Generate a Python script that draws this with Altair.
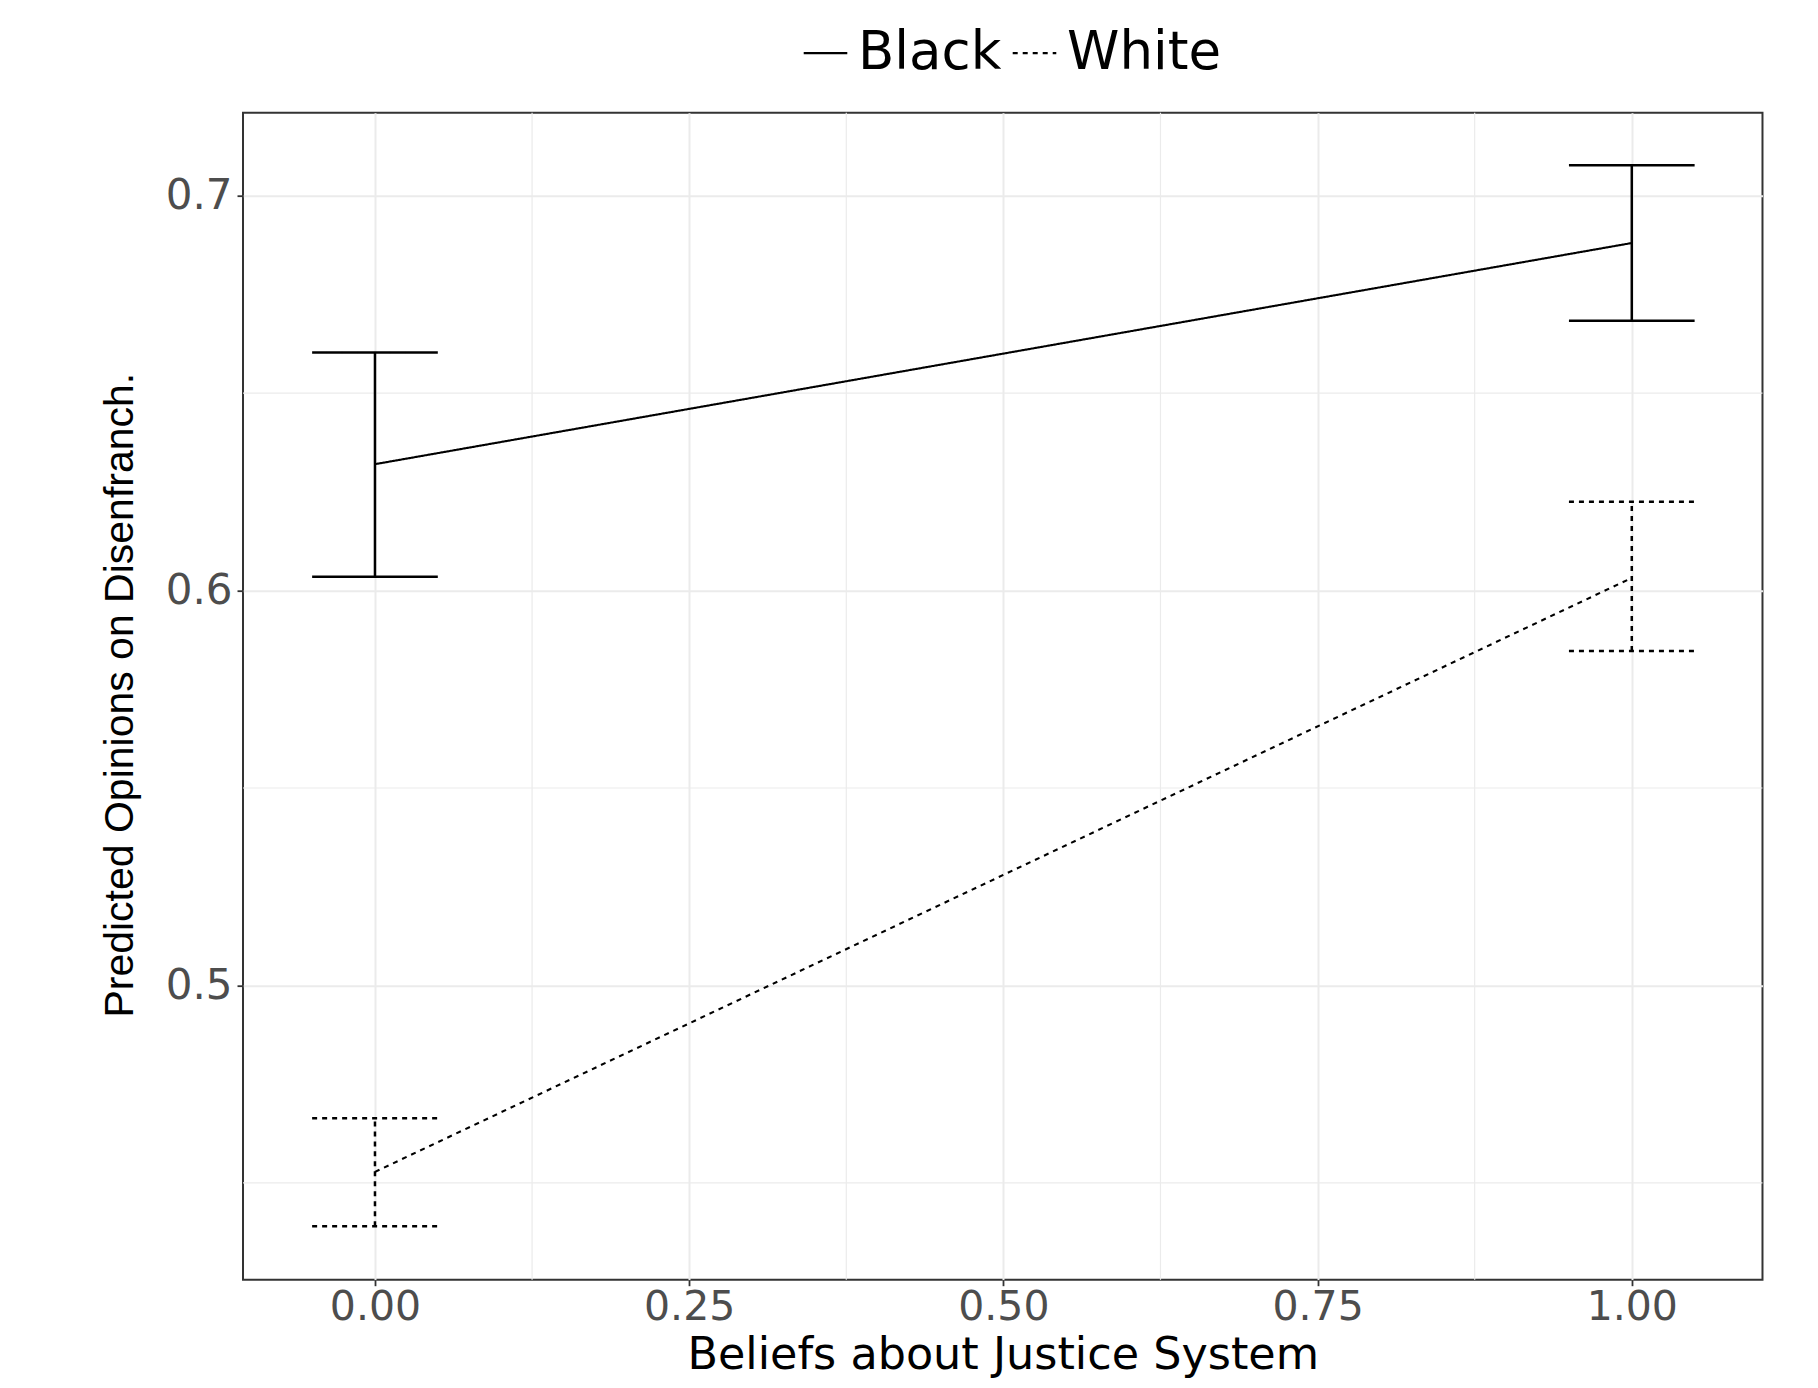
import altair as alt
import pandas as pd

# ---- data ----
groups = ["Black", "White"]
x_vals = [0.0, 1.0]
black_mean = [0.632, 0.688]
black_lo = [0.6035, 0.6683]
black_hi = [0.6603, 0.7077]
white_mean = [0.4528, 0.6032]
white_lo = [0.4390, 0.5847]
white_hi = [0.4664, 0.6225]

x_ticks = [0.0, 0.25, 0.5, 0.75, 1.0]
x_minor = [0.125, 0.375, 0.625, 0.875]
y_ticks = [0.5, 0.6, 0.7]
y_minor = [0.45, 0.55, 0.65]

CAP = 0.05

rows = []
for g, m, lo, hi in [("Black", black_mean, black_lo, black_hi),
                     ("White", white_mean, white_lo, white_hi)]:
    for i, xv in enumerate(x_vals):
        rows.append({"group": g, "x": xv, "mean": m[i], "lo": lo[i], "hi": hi[i],
                     "xl": xv - CAP, "xr": xv + CAP})
df = pd.DataFrame(rows)

xdom = [-0.105, 1.104]
ydom = [0.4255, 0.721]

xscale = alt.Scale(domain=xdom, nice=False, zero=False)
yscale = alt.Scale(domain=ydom, nice=False, zero=False)

dash = alt.StrokeDash(
    "group:N",
    scale=alt.Scale(domain=groups, range=[[1, 0], [5, 5]]),
    legend=alt.Legend(
        title=None, orient="none", direction="horizontal",
        legendX=556, legendY=-86,
        symbolType="stroke", symbolSize=1900, symbolStrokeWidth=2.2,
        symbolStrokeColor="black",
        labelFont="DejaVu Sans", labelFontSize=53, labelColor="black",
        labelOffset=6, columnPadding=6, padding=0, gridAlign="none",
    ),
)

xaxis = alt.Axis(values=x_ticks, format=".2f", title="Beliefs about Justice System",
                 labelFont="DejaVu Sans", labelFontSize=41, labelColor="#4d4d4d",
                 labelPadding=2, tickSize=6, tickColor="#333333", tickWidth=1.8,
                 domain=False, grid=True, gridColor="#ebebeb", gridWidth=2,
                 titleFont="DejaVu Sans", titleFontSize=44.5, titleColor="black",
                 titleFontWeight="normal", titleBaseline="alphabetic",
                 titleX=759.75, titleY=89, titleAlign="center")
yaxis = alt.Axis(values=y_ticks, format=".1f", title="Predicted Opinions on Disenfranch.",
                 labelFont="DejaVu Sans", labelFontSize=42, labelColor="#4d4d4d",
                 labelPadding=5, tickSize=6, tickColor="#333333", tickWidth=1.8,
                 domain=False, grid=True, gridColor="#ebebeb", gridWidth=2,
                 titleFont="Liberation Sans", titleFontSize=41, titleColor="black",
                 titleFontWeight="normal", titleBaseline="alphabetic",
                 titleAngle=270, titleX=-111, titleY=582, titleAlign="center")

base = alt.Chart(df)

minor_x = alt.Chart(pd.DataFrame({"v": x_minor})).mark_rule(
    color="#ebebeb", strokeWidth=1.2).encode(x=alt.X("v:Q", scale=xscale, axis=xaxis))
minor_y = alt.Chart(pd.DataFrame({"v": y_minor})).mark_rule(
    color="#ebebeb", strokeWidth=1.2).encode(y=alt.Y("v:Q", scale=yscale, axis=yaxis))

line = base.mark_line(color="black", strokeWidth=2.1).encode(
    x=alt.X("x:Q", scale=xscale, axis=xaxis),
    y=alt.Y("mean:Q", scale=yscale, axis=yaxis),
    strokeDash=dash,
    detail="group:N",
)
vbar = base.mark_rule(color="black", strokeWidth=2.5).encode(
    x=alt.X("x:Q", scale=xscale),
    y=alt.Y("lo:Q", scale=yscale),
    y2="hi:Q",
    strokeDash=dash,
)
cap_lo = base.mark_rule(color="black", strokeWidth=2.5).encode(
    x=alt.X("xl:Q", scale=xscale),
    x2="xr:Q",
    y=alt.Y("lo:Q", scale=yscale),
    strokeDash=dash,
)
cap_hi = base.mark_rule(color="black", strokeWidth=2.5).encode(
    x=alt.X("xl:Q", scale=xscale),
    x2="xr:Q",
    y=alt.Y("hi:Q", scale=yscale),
    strokeDash=dash,
)

chart = alt.layer(minor_x, minor_y, line, vbar, cap_lo, cap_hi).properties(
    width=1519.5, height=1167,
    background="white",
    autosize=alt.AutoSizeParams(type="none"),
    padding={"left": 235, "top": 104.7, "right": 20, "bottom": 103},
).configure_view(stroke="#333333", strokeWidth=2)

chart.save("out.html", embed_options={"renderer": "svg", "actions": False})
